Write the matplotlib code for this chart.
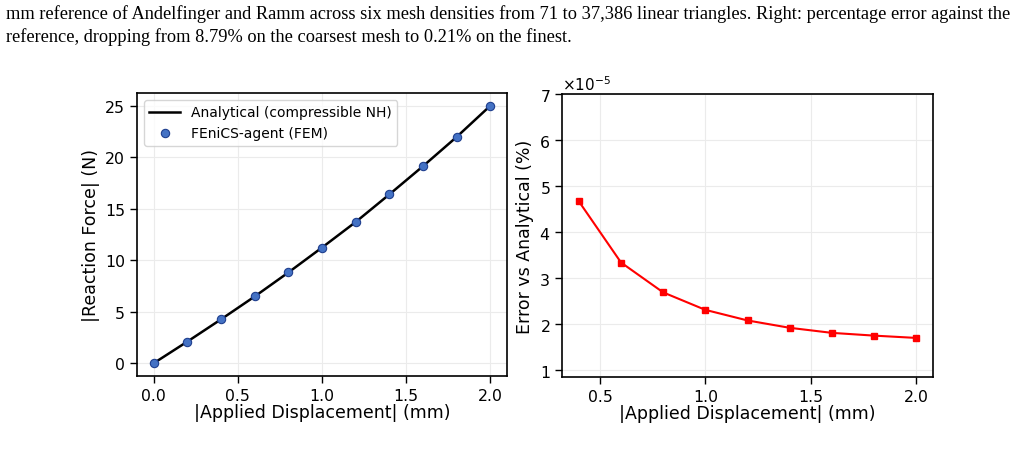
import matplotlib.pyplot as plt
from matplotlib.ticker import MultipleLocator

# reaction force vs displacement
disp = [0.0, 0.2, 0.4, 0.6, 0.8, 1.0, 1.2, 1.4, 1.6, 1.8, 2.0]
force_analytical = [0.0, 2.10, 4.26, 6.48, 8.81, 11.23, 13.71, 16.39, 19.13, 21.97, 25.0]
force_fem = [0.0, 2.10, 4.26, 6.48, 8.81, 11.23, 13.71, 16.39, 19.13, 21.97, 25.0]

# relative error (percent)
err_disp = [0.4, 0.6, 0.8, 1.0, 1.2, 1.4, 1.6, 1.8, 2.0]
err_pct = [4.67e-5, 3.34e-5, 2.69e-5, 2.31e-5, 2.08e-5, 1.92e-5, 1.81e-5, 1.75e-5, 1.70e-5]

caption = [
    "mm reference of Andelfinger and Ramm across six mesh densities from 71 to 37,386 linear triangles. Right: percentage error against the",
    "reference, dropping from 8.79% on the coarsest mesh to 0.21% on the finest.",
]

fig = plt.figure(figsize=(10.2, 4.52), dpi=100)

fig.text(0.006, 1 - 14 / 452, caption[0], family="Liberation Serif", fontsize=13.2,
         va="center", ha="left")
fig.text(0.006, 1 - 37 / 452, caption[1], family="Liberation Serif", fontsize=13.2,
         va="center", ha="left")

ax1 = fig.add_axes([137 / 1020, 1 - 377 / 452, 370 / 1020, 283 / 452])
ax2 = fig.add_axes([562 / 1020, 1 - 378 / 452, 371 / 1020, 283 / 452])

ax1.plot(disp, force_analytical, color="black", lw=1.8, label="Analytical (compressible NH)")
ax1.plot(disp, force_fem, "o", color="#4472c4", mec="#1f3f8f", mew=0.8, ms=6,
         label="FEniCS-agent (FEM)", zorder=3)
ax1.set_xlabel("|Applied Displacement| (mm)", fontsize=12.5, labelpad=0)
ax1.set_ylabel("|Reaction Force| (N)", fontsize=12.5)
ax1.set_yticks([0, 5, 10, 15, 20, 25])
ax1.set_ylim(-1.25, 26.25)
ax1.legend(loc="upper left", fontsize=10, frameon=True, handlelength=2.2)

ax2.plot(err_disp, err_pct, "s-", color="red", lw=1.5, ms=5)
ax2.set_ylim(min(err_pct) * 0.5, max(err_pct) * 1.5)
ax2.xaxis.set_major_locator(MultipleLocator(0.5))
ax2.ticklabel_format(axis="y", style="sci", scilimits=(0, 0), useMathText=True)
ax2.set_xlabel("|Applied Displacement| (mm)", fontsize=12.5, labelpad=0)
ax2.set_ylabel("Error vs Analytical (%)", fontsize=12.5)

for ax in (ax1, ax2):
    ax.grid(True, color="#ebebeb", lw=0.8)
    ax.set_axisbelow(True)
    ax.tick_params(labelsize=11.3, length=5, width=1)
    ax.yaxis.get_offset_text().set_fontsize(11)
    for s in ax.spines.values():
        s.set_linewidth(1.2)

fig.savefig("out.png", dpi=100)
